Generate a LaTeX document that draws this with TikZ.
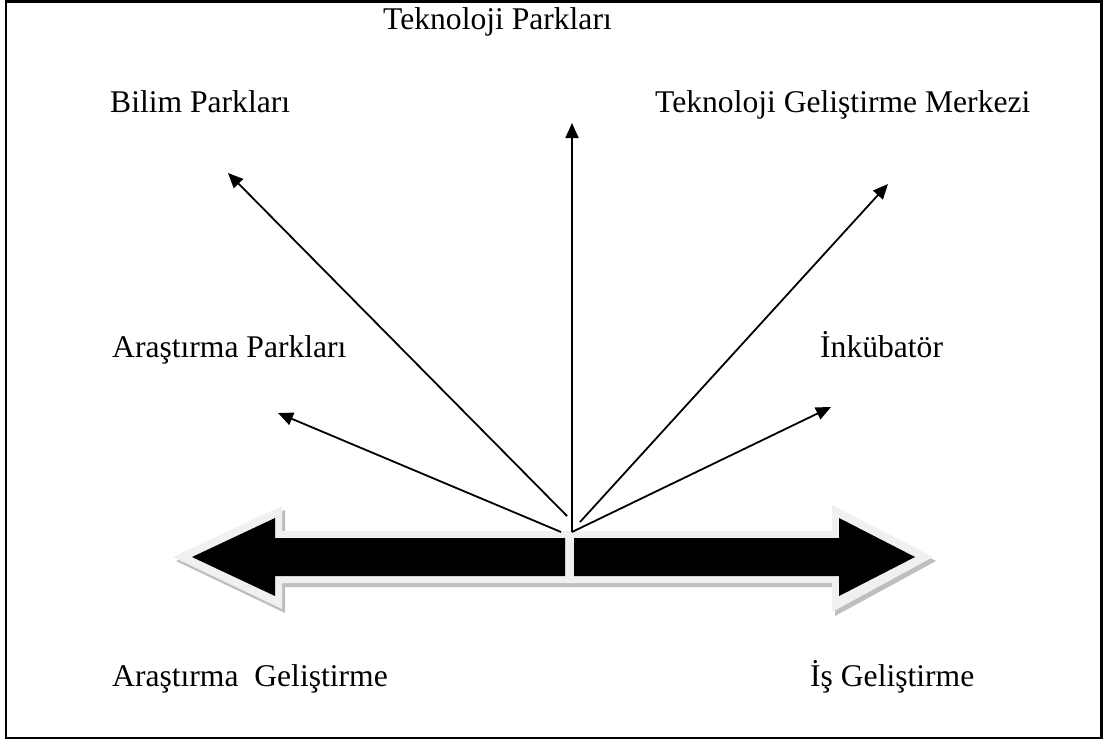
\documentclass[tikz,border=0pt]{standalone}
\usepackage{fontspec}
\setmainfont{Liberation Serif}
\usetikzlibrary{arrows.meta}
\definecolor{outl}{HTML}{F0F0F0}
\definecolor{shad}{HTML}{BEBEBE}
\begin{document}
\begin{tikzpicture}[x=1pt,y=-1pt,
  lbl/.style={anchor=base west,inner sep=0pt,font=\fontsize{31.6}{38}\selectfont},
  ray/.style={line width=1.8pt,-{Triangle[length=15pt,width=13pt]}}]
\useasboundingbox (0,0) rectangle (1105,742);
\draw[line width=2.2pt] (6,1.5) rectangle (1101.5,738);
% labels
\node[lbl] (tp) at (383,29) {Teknoloji Parkları};
\node[lbl] (bp) at (110,112) {Bilim Parkları};
\node[lbl] (tgm) at (655,112) {Teknoloji Geliştirme Merkezi};
\node[lbl] (ap) at (112,357) {Araştırma Parkları};
\node[lbl] (ink) at (820,357) {İnkübatör};
\node[lbl] (ag) at (112,686) {Araştırma\ \ Geliştirme};
\node[lbl] (ig) at (810,686) {İş Geliştirme};
% big double arrow: shadow, light outline, black body
\fill[shad] (176,561) -- (285,510) -- (285,535) -- (572,535) -- (572,587) -- (285,587) -- (285,613) -- cycle;
\fill[shad] (572,535) -- (835,535) -- (835,509) -- (936,561) -- (835,616) -- (835,587) -- (572,587) -- cycle;
\fill[outl] (173,557) -- (282,506) -- (282,531) -- (570,531) -- (570,583) -- (282,583) -- (282,609) -- cycle;
\fill[outl] (569,531) -- (832,531) -- (832,505) -- (933,557) -- (832,612) -- (832,583) -- (569,583) -- cycle;
\fill[black] (192,557) -- (275,518) -- (275,538) -- (565,538) -- (565,576) -- (275,576) -- (275,596) -- cycle;
\fill[black] (574,538) -- (839,538) -- (839,518) -- (915,557) -- (839,596) -- (839,576) -- (574,576) -- cycle;
% ray ends
\coordinate (sbp) at (567,516);
\coordinate (ebp) at (228,173);
\coordinate (stp) at (572,532);
\coordinate (etp) at (572,123);
\coordinate (stgm) at (580,522);
\coordinate (etgm) at (888,184);
\coordinate (sap) at (561,532);
\coordinate (eap) at (278,413);
\coordinate (sink) at (572,532);
\coordinate (eink) at (831,407);
\draw[ray] (sbp) -- (ebp);
\draw[ray] (stp) -- (etp);
\draw[ray] (stgm) -- (etgm);
\draw[ray] (sap) -- (eap);
\draw[ray] (sink) -- (eink);
\end{tikzpicture}
\end{document}
